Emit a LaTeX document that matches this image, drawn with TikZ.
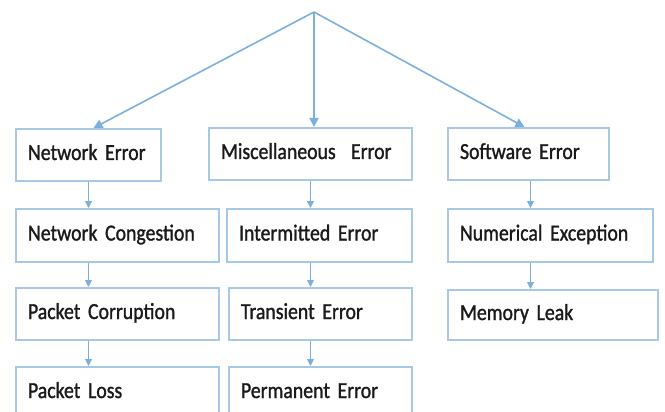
\documentclass[tikz,border=0pt]{standalone}
\usepackage{fontspec}
\setmainfont{Carlito}[FakeStretch=0.86, FakeBold=1.2]
\usetikzlibrary{arrows.meta}
\definecolor{boxc}{HTML}{A8C8E8}
\definecolor{arrc}{HTML}{5B9BD5}
\definecolor{txtc}{HTML}{1A1A1A}
\newcommand\ebfont{\fontsize{23}{25}\selectfont\fontdimen2\font=4pt\fontdimen3\font=0pt\fontdimen4\font=0pt\relax}
\begin{document}
\begin{tikzpicture}[x=1pt,y=-1pt,
  ebox/.style={draw=boxc, line width=2pt, anchor=north west, inner xsep=12pt, inner ysep=0pt,
    text height=15pt, text depth=5pt,
    align=left, text=txtc, font=\ebfont},
  bigarr/.style={draw=arrc!80, line width=1.6pt, -{Triangle[width=9pt,length=9pt]}},
  smallarr/.style={draw=arrc!80, line width=1pt, -{Triangle[width=7pt,length=7pt]}}]
\useasboundingbox (0,0) rectangle (665,412);
\clip (0,0) rectangle (665,412);
\coordinate (apex) at (314,12);
\node[ebox, text width=121pt, minimum height=52pt] (ne) at (15,128) {Network Error};
\node[ebox, text width=179pt, minimum height=52pt] (me) at (208,127) {Miscellaneous~ Error};
\node[ebox, text width=137pt, minimum height=52pt] (se) at (447,127) {Software Error};
\node[ebox, text width=179pt, minimum height=53pt] (nc) at (15,208) {Network Congestion};
\node[ebox, text width=161pt, minimum height=53pt] (ie) at (226,208) {Intermitted Error};
\node[ebox, text width=181pt, minimum height=53pt] (nx) at (447,208) {Numerical Exception};
\node[ebox, text width=179pt, minimum height=52pt] (pc) at (15,287) {Packet Corruption};
\node[ebox, text width=159pt, minimum height=52pt] (te) at (228,287) {Transient Error};
\node[ebox, text width=186pt, minimum height=50pt] (ml) at (447,289) {Memory Leak};
\node[ebox, text width=179pt, minimum height=52pt] (pl) at (15,366) {Packet Loss};
\node[ebox, text width=159pt, minimum height=52pt] (pe) at (228,366) {Permanent Error};
\draw[bigarr] (apex) -- ([xshift=5pt]ne.north);
\draw[bigarr] (apex) -- (apex |- me.north);
\draw[bigarr] (apex) -- ([xshift=-4pt]se.north);
\draw[smallarr] (ne.south) -- (ne.south |- nc.north);
\draw[smallarr] (ne.south |- nc.south) -- (ne.south |- pc.north);
\draw[smallarr] (ne.south |- pc.south) -- (ne.south |- pl.north);
\draw[smallarr] (me.south) -- (me.south |- ie.north);
\draw[smallarr] (me.south |- ie.south) -- (me.south |- te.north);
\draw[smallarr] (me.south |- te.south) -- (me.south |- pe.north);
\draw[smallarr] ([xshift=2pt]se.south) -- ([xshift=2pt]se.south |- nx.north);
\draw[smallarr] ([xshift=2pt]se.south |- nx.south) -- ([xshift=2pt]se.south |- ml.north);
\end{tikzpicture}
\end{document}
